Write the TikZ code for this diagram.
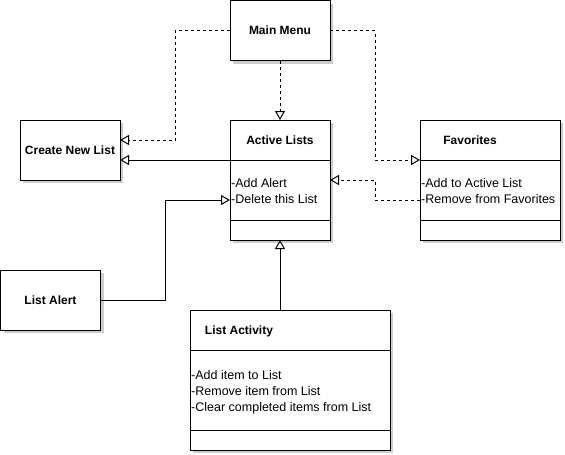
\documentclass[tikz,border=0pt]{standalone}
\usepackage{fontspec}
\setmainfont{Liberation Sans}
\usetikzlibrary{arrows.meta,positioning,shadows}

\tikzset{
    part/.style={draw, line width=1pt, fill=white, inner sep=0pt, outer sep=0pt,
        drop shadow={shadow xshift=3pt, shadow yshift=-3pt, fill=black!20, opacity=1},
        font=\bfseries\fontsize{12}{14}\selectfont, text height=8.6pt, text depth=0pt},
    ttl/.style={inner sep=0pt, font=\bfseries\fontsize{12}{14}\selectfont, text height=8.6pt, text depth=0pt},
    attr/.style={inner sep=0pt, anchor=base west, font=\fontsize{12.5}{14}\selectfont},
    link/.style={line width=1pt, -{Triangle[open, length=9pt, width=10pt, fill=white]}},
    dep/.style={link, dash pattern=on 3pt off 3pt}
}

\begin{document}
\begin{tikzpicture}[x=1pt, y=-1pt]
    \useasboundingbox (0,0) rectangle (565,455);

    % single boxes
    \node[part, minimum width=100pt, minimum height=60pt] (menu) at (280,30.5) {Main Menu};
    \node[part, minimum width=100pt, minimum height=60pt] (create) at (70,150) {Create New List};
    \node[part, minimum width=100pt, minimum height=60pt] (alert) at (50.5,300) {List Alert};

    % Active Lists
    \node[part, minimum width=100pt, minimum height=40pt] (active) at (280,140) {Active Lists};
    \node[part, minimum width=100pt, minimum height=60pt] (activeattr) at (280,190) {};
    \node[part, minimum width=100pt, minimum height=20pt] (activebot) at (280,230) {};
    \node[attr] (al1) at (231,187) {-Add Alert};
    \node[attr] (al2) at (231,203.5) {-Delete this List};

    % Favorites
    \node[part, minimum width=140pt, minimum height=40pt] (fav) at (490,140) {};
    \node[ttl] (favname) at (470,140) {Favorites};
    \node[part, minimum width=140pt, minimum height=60pt] (favattr) at (490,190) {};
    \node[part, minimum width=140pt, minimum height=20pt] (favbot) at (490,230) {};
    \node[attr] (fv1) at (421,187) {-Add to Active List};
    \node[attr] (fv2) at (421,203.5) {-Remove from Favorites};

    % List Activity
    \node[part, minimum width=200pt, minimum height=40pt] (act) at (290,330) {};
    \node[ttl] (actname) at (239,330) {List Activity};
    \node[part, minimum width=200pt, minimum height=80pt] (actattr) at (290,390) {};
    \node[part, minimum width=200pt, minimum height=20pt] (actbot) at (290,440) {};
    \node[attr] (la1) at (191,379.3) {-Add item to List};
    \node[attr] (la2) at (191,395.3) {-Remove item from List};
    \node[attr] (la3) at (191,411.3) {-Clear completed items from List};

    % connectors
    \draw[dep] (menu.west) -- ++(-55,0) |- ([yshift=10pt]create.east);
    \draw[dep] (menu.south) -- (active.north);
    \draw[dep] (menu.east) -- ++(45,0) |- (fav.south west);
    \draw[link] (active.south west) -- ([yshift=-10pt]create.east);
    \draw[dep] ([yshift=-10pt]favattr.west) -- ++(-45,0) |- ([yshift=10pt]activeattr.east);
    \draw[link] (alert.east) -- ++(65,0) |- ([yshift=-10pt]activeattr.west);
    \draw[link] ([xshift=-10pt]act.north) -- (activebot.south);
\end{tikzpicture}
\end{document}
